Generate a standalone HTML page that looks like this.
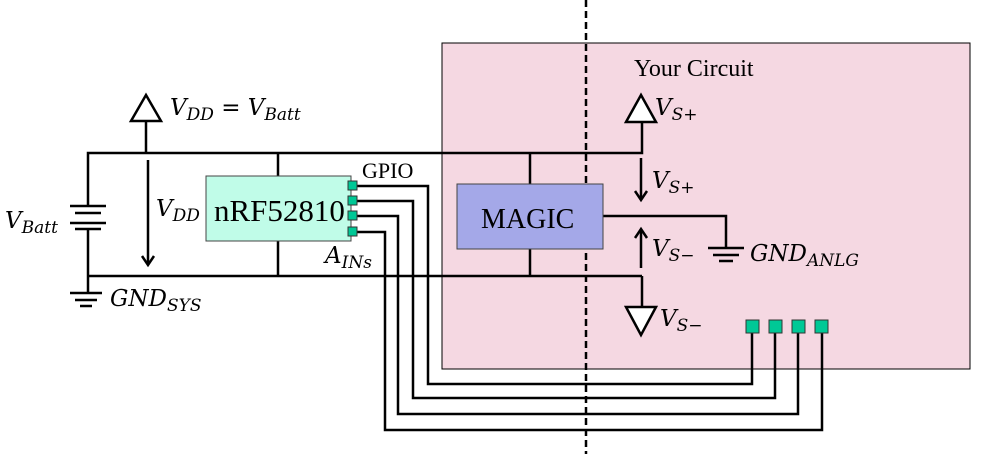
<!DOCTYPE html>
<html><head><meta charset="utf-8"><style>
body{margin:0;background:#fff}
svg{display:block}
.s{font-family:"Liberation Serif",serif}
.m{font-family:"DejaVu Serif","Liberation Serif",serif;font-style:italic}
</style></head><body>
<svg width="987" height="454" viewBox="0 0 987 454">
<rect x="442" y="43" width="528" height="326" fill="#f5d8e2" stroke="#000" stroke-width="1"/>
<text x="634" y="76" class="s" font-size="24">Your Circuit</text>
<g stroke="#000" stroke-width="2.5" fill="none">
<polyline points="88,206 88,153 642,153 642,122"/>
<polyline points="88,229 88,293"/>
<line x1="88" y1="276" x2="642" y2="276"/>
<line x1="642" y1="276" x2="642" y2="307"/>
<line x1="146" y1="121" x2="146" y2="153"/>
<line x1="278" y1="153" x2="278" y2="176"/><line x1="278" y1="241" x2="278" y2="276"/>
<line x1="530" y1="153" x2="530" y2="184"/><line x1="530" y1="249" x2="530" y2="276"/>
<polyline points="603,216 726,216 726,248"/>
<line x1="70" y1="206" x2="106" y2="206"/><line x1="75" y1="213" x2="101" y2="213"/>
<line x1="70" y1="223" x2="106" y2="223"/><line x1="75" y1="229" x2="101" y2="229"/>
<line x1="70" y1="293" x2="102" y2="293"/><line x1="75" y1="300" x2="97" y2="300"/><line x1="80" y1="306" x2="92" y2="306"/>
<line x1="708" y1="248" x2="744" y2="248"/><line x1="713" y1="255" x2="739" y2="255"/><line x1="719" y1="261" x2="733" y2="261"/>
<polygon points="146,95 131,121 161,121" fill="#fff"/>
<polygon points="641,95 626,122 656,122" fill="#fff"/>
<polygon points="641,335 626,307 656,307" fill="#fff"/>
<line x1="148" y1="160" x2="148" y2="264"/><polyline points="142,256 148,265 154,256"/>
<line x1="641" y1="158" x2="641" y2="199"/><polyline points="635,191 641,200 647,191"/>
<line x1="641" y1="230" x2="641" y2="268"/><polyline points="635,238 641,229 647,238"/>
<polyline points="357,186 428,186 428,384 752,384 752,333"/>
<polyline points="357,201 413,201 413,398 775,398 775,333"/>
<polyline points="357,216 398,216 398,414 798,414 798,333"/>
<polyline points="357,232 385,232 385,430 822,430 822,333"/>
</g>
<line x1="586" y1="0" x2="586" y2="454" stroke="#000" stroke-width="2.5" stroke-dasharray="7,4"/>
<rect x="206" y="176" width="145" height="65" fill="#c0fce8" stroke="#444" stroke-width="1"/>
<text x="214" y="221" class="s" font-size="31">nRF52810</text>
<rect x="457" y="184" width="146" height="65" fill="#a4a8e8" stroke="#444" stroke-width="1"/>
<text x="481" y="228" class="s" font-size="28">MAGIC</text>
<g fill="#00c896" stroke="#333" stroke-width="1">
<rect x="348" y="181" width="9" height="9"/><rect x="348" y="196" width="9" height="9"/><rect x="348" y="211" width="9" height="9"/><rect x="348" y="227" width="9" height="9"/>
<rect x="746" y="320" width="13" height="13"/><rect x="769" y="320" width="13" height="13"/><rect x="792" y="320" width="13" height="13"/><rect x="815" y="320" width="13" height="13"/>
</g>
<text x="362" y="178" class="s" font-size="22">GPIO</text>
<g class="m" font-size="23">
<text x="170" y="115">V<tspan font-size="17" dy="5">DD</tspan><tspan dy="-5"> = V</tspan><tspan font-size="17" dy="5">Batt</tspan></text>
<text x="5" y="228">V<tspan font-size="17" dy="5">Batt</tspan></text>
<text x="156" y="216">V<tspan font-size="17" dy="5">DD</tspan></text>
<text x="110" y="306">GND<tspan font-size="17" dy="5">SYS</tspan></text>
<text x="325" y="263">A<tspan font-size="17" dy="5">INs</tspan></text>
<text x="655" y="115">V<tspan font-size="17" dy="5">S+</tspan></text>
<text x="652" y="188">V<tspan font-size="17" dy="5">S+</tspan></text>
<text x="652" y="256">V<tspan font-size="17" dy="5">S−</tspan></text>
<text x="660" y="326">V<tspan font-size="17" dy="5">S−</tspan></text>
<text x="750" y="261">GND<tspan font-size="17" dy="5">ANLG</tspan></text>
</g>
</svg>
</body></html>
